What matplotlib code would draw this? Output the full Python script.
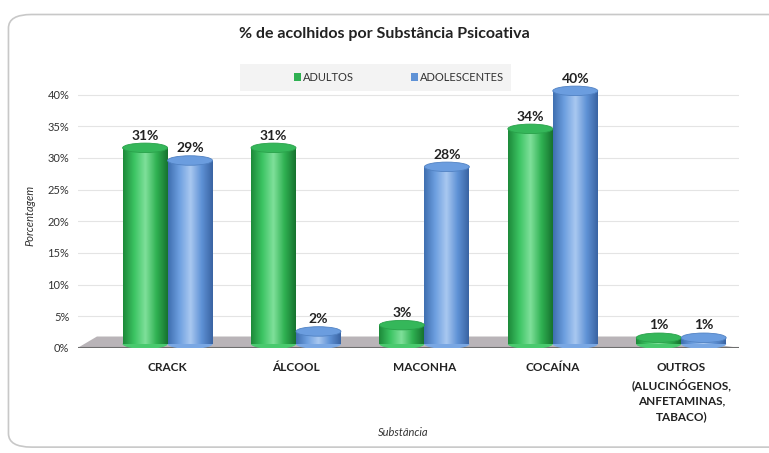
import matplotlib.pyplot as plt
import numpy as np
from matplotlib.colors import LinearSegmentedColormap
from matplotlib.patches import Rectangle, Ellipse, Polygon, FancyBboxPatch

plt.rcParams['font.family'] = ['Lato', 'DejaVu Sans']

categorias = ['CRACK', 'ÁLCOOL', 'MACONHA', 'COCAÍNA',
              'OUTROS\n(ALUCINÓGENOS,\nANFETAMINAS,\nTABACO)']
adultos = [31, 31, 3, 34, 1]
adolescentes = [29, 2, 28, 40, 1]
yticks = [0, 5, 10, 15, 20, 25, 30, 35, 40]

verde = LinearSegmentedColormap.from_list('v', ['#1d8a3a', '#3cc463', '#7fe09a', '#2fb152', '#17732f'])
azul = LinearSegmentedColormap.from_list('a', ['#3f6fb0', '#6d9fe0', '#a9c8f0', '#5f92d6', '#3a64a3'])

fig = plt.figure(figsize=(7.69, 4.53), dpi=100)
moldura = FancyBboxPatch((0.011, 0.013), 1.2, 0.955, boxstyle='round,pad=0,rounding_size=0.03',
                         transform=fig.transFigure, fc='white', ec='#c8c8c8', lw=1.2, zorder=-5)
fig.patches.append(moldura)
ax = fig.add_axes([0.101, 0.232, 0.86, 0.587])
ax.patch.set_alpha(0)

# floor
ax.add_patch(Polygon([[-0.7, 0], [4.45, 0], [3.85, 1.8], [-0.55, 1.8]], closed=True,
                     fc='#b9b4b8', ec='none', zorder=1))
ax.axhline(0, color='#6e6e6e', lw=1.5, zorder=2)

def cilindro(x, h, w, cmap, topo):
    base = 0.6
    img = np.linspace(0, 1, 100).reshape(1, -1)
    im = ax.imshow(img, cmap=cmap, extent=[x - w / 2, x + w / 2, base, base + h],
                   aspect='auto', zorder=3, origin='lower')
    r = Rectangle((x - w / 2, base), w, h, transform=ax.transData, fc='none', ec='none')
    ax.add_patch(r)
    im.set_clip_path(r)
    ax.add_patch(Ellipse((x, base), w, 1.5, fc=cmap(0.3), ec='none', zorder=2.9))
    ax.add_patch(Ellipse((x, base + h), w, 1.5, fc=topo, ec=cmap(0.1), lw=0.6, zorder=4))

w = 0.35
x = np.arange(len(categorias))
for i in range(len(categorias)):
    cilindro(x[i] - w / 2, adultos[i], w, verde, '#35b75a')
    cilindro(x[i] + w / 2, adolescentes[i], w, azul, '#6b9ddf')
    ax.text(x[i] - w / 2, adultos[i] + 1.6, f'{adultos[i]}%', ha='center', va='bottom',
            fontsize=10, fontweight='bold', color='#222222', zorder=5)
    ax.text(x[i] + w / 2, adolescentes[i] + 1.6, f'{adolescentes[i]}%', ha='center', va='bottom',
            fontsize=10, fontweight='bold', color='#222222', zorder=5, clip_on=False)

ax.set_xlim(-0.7, 4.45)
ax.set_ylim(0, 42)
ax.set_yticks(yticks)
ax.set_yticklabels([f'{t}%' for t in yticks], fontsize=8, color='#333333')
ax.set_xticks(x)
ax.set_xticklabels(categorias, fontsize=8.5, fontweight='bold', color='#222222', linespacing=1.5, va='top')
ax.tick_params(length=0, pad=10)
ax.tick_params(axis='y', pad=6)
ax.grid(axis='y', color='#e4e4e4', lw=0.8, zorder=0)
ax.set_axisbelow(True)
for s in ax.spines.values():
    s.set_visible(False)

ax.set_ylabel('Porcentagem', fontsize=8, style='italic', color='#333333', labelpad=9)
fig.text(0.524, 0.046, 'Substância', fontsize=8, style='italic', color='#333333', ha='center', va='center')
fig.suptitle('% de acolhidos por Substância Psicoativa', y=0.94, fontsize=11.5, fontweight='bold', color='#222222')

# legend
leg_ax = fig.add_axes([0.312, 0.8, 0.353, 0.058])
leg_ax.set_xlim(0, 1)
leg_ax.set_ylim(0, 1)
leg_ax.axis('off')
leg_ax.add_patch(Rectangle((0, 0), 1, 1, fc='#f3f3f3', ec='none'))
leg_ax.add_patch(Rectangle((0.2, 0.38), 0.025, 0.28, fc='#2fb152'))
leg_ax.text(0.232, 0.5, 'ADULTOS', va='center', fontsize=8, color='#333333')
leg_ax.add_patch(Rectangle((0.63, 0.38), 0.025, 0.28, fc='#5f92d6'))
leg_ax.text(0.662, 0.5, 'ADOLESCENTES', va='center', fontsize=8, color='#333333')

fig.savefig('out.png', dpi=100)
